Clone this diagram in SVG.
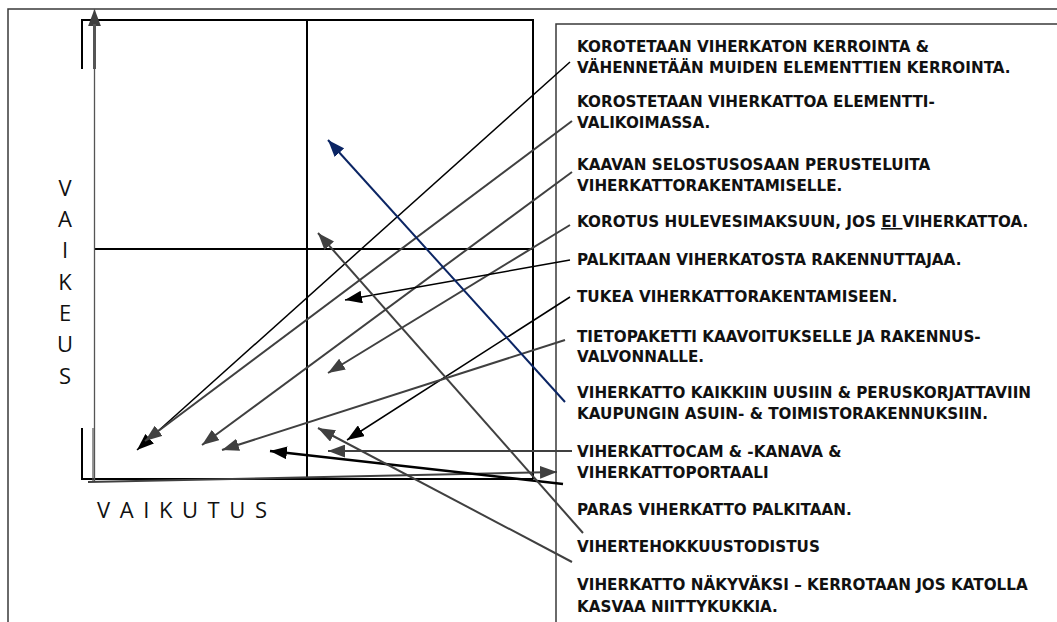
<svg xmlns="http://www.w3.org/2000/svg" width="1057" height="622" viewBox="0 0 1057 622">
<style>
.frame{stroke:#3a3a3a;stroke-width:1.5;fill:none}
.grid{stroke:#000;stroke-width:2;fill:none}
.lbl{font-family:"DejaVu Sans","Liberation Sans",sans-serif;font-weight:bold;font-size:15.2px;fill:#111}
.axis{font-family:"Open Sans","Liberation Sans",sans-serif;font-weight:normal;font-size:22px;fill:#111}
.cg{stroke:#404040;stroke-width:2;fill:none;marker-end:url(#ahGray)}
.cb{stroke:#000;stroke-width:1.5;fill:none;marker-end:url(#ahBlack)}
.cn{stroke:#0b2564;stroke-width:2;fill:none;marker-end:url(#ahNavy)}
</style>
<defs>
<marker id="ahGray" viewBox="0 0 16 12" refX="16" refY="6" markerWidth="17" markerHeight="13" markerUnits="userSpaceOnUse" orient="auto"><path d="M0,0 L16,6 L0,12 z" fill="#404040"/></marker>
<marker id="ahBlack" viewBox="0 0 16 12" refX="16" refY="6" markerWidth="17" markerHeight="13" markerUnits="userSpaceOnUse" orient="auto"><path d="M0,0 L16,6 L0,12 z" fill="#000"/></marker>
<marker id="ahNavy" viewBox="0 0 16 12" refX="16" refY="6" markerWidth="17" markerHeight="13" markerUnits="userSpaceOnUse" orient="auto"><path d="M0,0 L16,6 L0,12 z" fill="#0b2564"/></marker>
</defs>
<rect width="1057" height="622" fill="#fff"/>
<g id="frames">
<path class="frame" d="M8,622 V9 H1057"/>
<path class="frame" d="M556,622 V24 H1057"/>
</g>
<g id="chart">
<path class="grid" d="M82,69 V20 H533 V479"/>
<path class="grid" d="M82,428 V479 H533"/>
<line class="grid" x1="307" y1="20" x2="307" y2="479"/>
<line class="grid" x1="95" y1="249" x2="533" y2="249"/>
</g>
<g id="axis-labels">
<g id="vaikeus" class="axis" text-anchor="middle">
<text x="65" y="196">V</text>
<text x="65" y="227">A</text>
<text x="65" y="258">I</text>
<text x="65" y="290">K</text>
<text x="65" y="321">E</text>
<text x="65" y="352">U</text>
<text x="65" y="384">S</text>
</g>
<text id="vaikutus" class="axis" x="97" y="518" textLength="170" lengthAdjust="spacing">V A I K U T U S</text>
</g>
<g id="connectors">
<line x1="94.5" y1="482" x2="94.5" y2="9" stroke="#555" stroke-width="1.3" marker-end="url(#ahGray)"/>
<line x1="94.5" y1="24" x2="94.5" y2="69" stroke="#555" stroke-width="3"/>
<line x1="93" y1="428" x2="93" y2="482" stroke="#555" stroke-width="1.2"/>
<line x1="88" y1="482" x2="557" y2="472" class="cg"/>
<line x1="570" y1="62" x2="137" y2="450" class="cb"/>
<line x1="572" y1="121" x2="145" y2="441" class="cg"/>
<line x1="572" y1="172" x2="202" y2="445" class="cg"/>
<line x1="570" y1="225" x2="328" y2="373" class="cg"/>
<line x1="570" y1="260" x2="345" y2="300" class="cb"/>
<line x1="570" y1="297" x2="347" y2="440" class="cb"/>
<line x1="565" y1="340" x2="222" y2="450" class="cg"/>
<line x1="565" y1="402" x2="328" y2="140" class="cn"/>
<line x1="572" y1="451" x2="328" y2="451" class="cg"/>
<line x1="563" y1="484" x2="270" y2="451" class="cb" style="stroke-width:2.5"/>
<line x1="583" y1="533" x2="318" y2="233" class="cg"/>
<line x1="572" y1="562" x2="318" y2="428" class="cg"/>
</g>
<g id="n1" class="lbl"><text x="577" y="52">KOROTETAAN VIHERKATON KERROINTA &amp;</text><text x="577" y="73">VÄHENNETÄÄN MUIDEN ELEMENTTIEN KERROINTA.</text></g>
<g id="n2" class="lbl"><text x="577" y="107">KOROSTETAAN VIHERKATTOA ELEMENTTI-</text><text x="577" y="128">VALIKOIMASSA.</text></g>
<g id="n3" class="lbl"><text x="577" y="170">KAAVAN SELOSTUSOSAAN PERUSTELUITA</text><text x="577" y="191">VIHERKATTORAKENTAMISELLE.</text></g>
<g id="n4" class="lbl"><text x="577" y="227">KOROTUS HULEVESIMAKSUUN, JOS <tspan text-decoration="underline">EI </tspan>VIHERKATTOA.</text></g>
<g id="n5" class="lbl"><text x="577" y="265">PALKITAAN VIHERKATOSTA RAKENNUTTAJAA.</text></g>
<g id="n6" class="lbl"><text x="577" y="302">TUKEA VIHERKATTORAKENTAMISEEN.</text></g>
<g id="n7" class="lbl"><text x="577" y="342">TIETOPAKETTI KAAVOITUKSELLE JA RAKENNUS-</text><text x="577" y="362">VALVONNALLE.</text></g>
<g id="n8" class="lbl"><text x="577" y="398">VIHERKATTO KAIKKIIN UUSIIN &amp; PERUSKORJATTAVIIN</text><text x="577" y="419">KAUPUNGIN ASUIN- &amp; TOIMISTORAKENNUKSIIN.</text></g>
<g id="n9" class="lbl"><text x="577" y="457">VIHERKATTOCAM &amp; -KANAVA &amp;</text><text x="577" y="478">VIHERKATTOPORTAALI</text></g>
<g id="n10" class="lbl"><text x="577" y="515">PARAS VIHERKATTO PALKITAAN.</text></g>
<g id="n11" class="lbl"><text x="577" y="552">VIHERTEHOKKUUSTODISTUS</text></g>
<g id="n12" class="lbl"><text x="577" y="590">VIHERKATTO NÄKYVÄKSI – KERROTAAN JOS KATOLLA</text><text x="577" y="612">KASVAA NIITTYKUKKIA.</text></g>
</svg>
